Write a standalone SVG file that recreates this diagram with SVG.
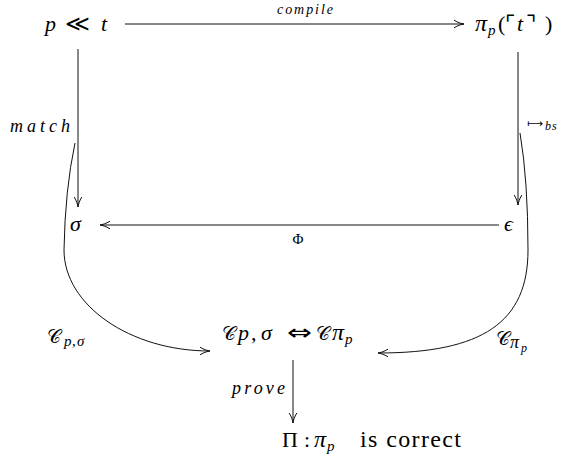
<svg xmlns="http://www.w3.org/2000/svg" width="562" height="467" viewBox="0 0 562 467">
<defs>
<style>
text{font-family:"Liberation Serif","DejaVu Serif",serif;fill:#000}
.n{font-size:22px}
.i{font-style:italic}
.lab{font-style:italic}
.sub{font-size:15px}
.big{font-size:24px}
.cal{font-size:19px}
.sym{font-family:"DejaVu Sans",sans-serif;font-style:normal}
.edge{fill:none;stroke:#111;stroke-width:1}
</style>
<marker id="arr" viewBox="-12 -5 14 10" refX="0" refY="0" markerWidth="14" markerHeight="10" orient="auto" markerUnits="userSpaceOnUse">
<path d="M-10,-3.8 C-6,-1.3 -2,-0.3 0,0 C-2,0.3 -6,1.3 -10,3.8" fill="none" stroke="#111" stroke-width="1"/>
</marker>
</defs>
<rect width="562" height="467" fill="#fff"/>

<g id="connectors">
<path class="edge" d="M125,24 H464" marker-end="url(#arr)"/>
<path class="edge" d="M78,49 V207" marker-end="url(#arr)"/>
<path class="edge" d="M518,52 V205" marker-end="url(#arr)"/>
<path class="edge" d="M499,225 H100" marker-end="url(#arr)"/>
<path class="edge" d="M75,143 Q65,190 64,250 C64,305 130,351 210,351" marker-end="url(#arr)"/>
<path class="edge" d="M520,133 Q528,180 528,250 C528,322 483,353 378,353" marker-end="url(#arr)"/>
<path class="edge" d="M293,360 V423" marker-end="url(#arr)"/>
<text class="lab" x="277" y="14" font-size="14" textLength="56" lengthAdjust="spacing">compile</text>
<text class="lab" x="10" y="132" font-size="18" textLength="60" lengthAdjust="spacing">match</text>
<text y="127"><tspan class="sym" x="527" font-size="11">⟼</tspan><tspan class="i" x="545" y="130" font-size="12" letter-spacing="1">bs</tspan></text>
<text x="298" y="244" font-size="15" text-anchor="middle">Φ</text>
<text y="343"><tspan class="cal" x="47">𝒞</tspan><tspan class="i sub" x="64" y="346">p</tspan><tspan class="sub" x="72">,</tspan><tspan class="i sub" x="77">σ</tspan></text>
<text y="345"><tspan class="cal" x="496">𝒞</tspan><tspan class="i" font-size="18" x="510" y="348">π</tspan><tspan class="i" font-size="12" x="521" y="352">p</tspan></text>
<text class="lab" x="232" y="394" font-size="18" textLength="53" lengthAdjust="spacing">prove</text>
</g>

<g id="node-pt">
<text class="n" y="31"><tspan class="i" x="45">p</tspan><tspan class="sym" x="65" textLength="25" lengthAdjust="spacingAndGlyphs">≪</tspan><tspan class="i" x="101">t</tspan></text>
</g>
<g id="node-pi">
<text class="n" y="31"><tspan class="i big" x="475">π</tspan><tspan class="i sub" x="488" y="35">p</tspan><tspan x="498" y="31">(</tspan><tspan class="sym" x="505">⌜</tspan><tspan class="i" x="517">t</tspan><tspan class="sym" x="526">⌝</tspan><tspan x="545">)</tspan></text>
</g>
<g id="node-sigma">
<text class="n i" x="70" y="231">σ</text>
</g>
<g id="node-epsilon">
<text class="n i" x="504" y="231">ϵ</text>
</g>
<g id="node-equiv">
<text class="n" y="340"><tspan class="cal" x="222">𝒞</tspan><tspan class="i" x="238">p</tspan><tspan x="251">,</tspan><tspan class="i" x="261">σ</tspan><tspan class="sym" x="287" textLength="25" lengthAdjust="spacingAndGlyphs">⇔</tspan><tspan class="cal" x="316">𝒞</tspan><tspan class="i big" x="332">π</tspan><tspan class="i sub" x="345" y="344">p</tspan></text>
</g>
<g id="node-proof">
<text class="n" y="447"><tspan x="282">Π</tspan><tspan x="304">:</tspan><tspan class="i big" x="314">π</tspan><tspan class="i sub" x="327" y="451">p</tspan><tspan x="360" y="447" font-size="24" textLength="101" lengthAdjust="spacing">is correct</tspan></text>
</g>
</svg>
